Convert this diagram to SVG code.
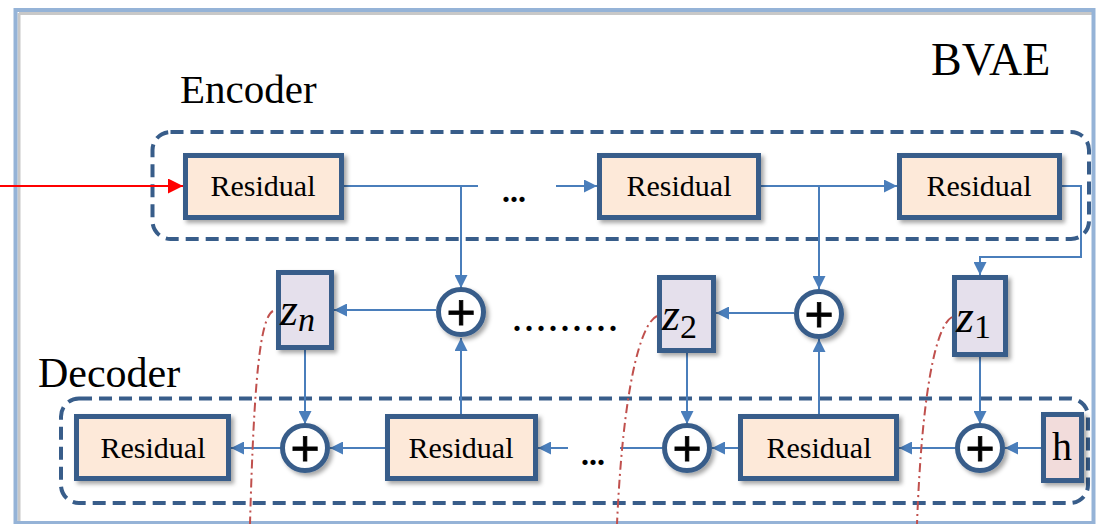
<svg xmlns="http://www.w3.org/2000/svg" width="1096" height="524" viewBox="0 0 1096 524">
<defs>
<style>
.res{fill:#fde9d9;stroke:#385d8a;stroke-width:5;filter:url(#sh)}
.zb{fill:#e5e0ec;stroke:#385d8a;stroke-width:5;filter:url(#sh)}
.hb{fill:#f2dcdb;stroke:#385d8a;stroke-width:5;filter:url(#sh)}
.cir{fill:#fff;stroke:#385d8a;stroke-width:5;filter:url(#sh)}
.grp{fill:none;stroke:#385d8a;stroke-width:4;stroke-dasharray:13 7}
.lbl{font-family:"Liberation Serif","Times New Roman",serif;font-size:30px;fill:#000;text-anchor:middle}
.big{font-family:"Liberation Serif","Times New Roman",serif;fill:#000}
.plus{font-family:"Liberation Sans",Arial,sans-serif;font-size:50px;fill:#000;text-anchor:middle;stroke:#000;stroke-width:0.8}
.z{font-family:"Liberation Serif","Times New Roman",serif;font-style:italic;font-size:46px;fill:#000}
.sub{font-size:34px}
.dots{font-family:"Liberation Serif","Times New Roman",serif;font-weight:bold;font-size:32px;fill:#000}
.con{fill:none;stroke:#4a7ebb;stroke-width:2}
.red{fill:none;stroke:#c0504d;stroke-width:2;stroke-dasharray:9 4 2 4}
</style>
<filter id="sh" x="-20%" y="-20%" width="150%" height="150%">
<feDropShadow dx="3" dy="3" stdDeviation="2" flood-color="#000" flood-opacity="0.35"/>
</filter>
<marker id="ab" viewBox="0 0 10 10" refX="10" refY="5" markerWidth="15" markerHeight="13" markerUnits="userSpaceOnUse" orient="auto">
<path d="M0,0 L10,5 L0,10 Z" fill="#4a7ebb"/>
</marker>
<marker id="ar" viewBox="0 0 10 10" refX="10" refY="5" markerWidth="17" markerHeight="15" markerUnits="userSpaceOnUse" orient="auto">
<path d="M0,0 L10,5 L0,10 Z" fill="#ff0000"/>
</marker>
</defs>
<rect width="1096" height="524" fill="#fff"/>
<g id="frame">
<line x1="19" y1="13" x2="19" y2="524" stroke="#c8c8c8" stroke-width="3"/>
<line x1="19" y1="13.5" x2="1092" y2="13.5" stroke="#c8c8c8" stroke-width="3"/>
<rect x="15.5" y="10" width="1078" height="513" fill="none" stroke="#95b3d7" stroke-width="4"/>
</g>
<g id="titles">
<text class="big" x="931" y="75" font-size="46">BVAE</text>
<text class="big" x="180" y="103" font-size="41">Encoder</text>
<text class="big" x="38" y="387" font-size="42">Decoder</text>
</g>
<g id="encoder-group"><rect class="grp" x="152.5" y="132" width="936.5" height="107" rx="18"/></g>
<g id="decoder-group"><rect class="grp" x="61" y="398.5" width="1027" height="104.5" rx="18"/></g>
<g id="connectors">
<line x1="0" y1="186" x2="183" y2="186" stroke="#ff0000" stroke-width="2" marker-end="url(#ar)"/>
<path class="con" d="M344,186 H478"/>
<path class="con" d="M461,186 V288" marker-end="url(#ab)"/>
<path class="con" d="M556,186 H597" marker-end="url(#ab)"/>
<path class="con" d="M761,186 H897" marker-end="url(#ab)"/>
<path class="con" d="M819,186 V289" marker-end="url(#ab)"/>
<path class="con" d="M1062,186 H1081 V257 H980 V275" marker-end="url(#ab)"/>
<path class="con" d="M436,310 H334" marker-end="url(#ab)"/>
<path class="con" d="M794,313 H716" marker-end="url(#ab)"/>
<path class="con" d="M461,415 V338" marker-end="url(#ab)"/>
<path class="con" d="M819,414 V339" marker-end="url(#ab)"/>
<path class="con" d="M305,350 V424" marker-end="url(#ab)"/>
<path class="con" d="M687,353 V424" marker-end="url(#ab)"/>
<path class="con" d="M980,357 V424" marker-end="url(#ab)"/>
<path class="con" d="M281,448 H231" marker-end="url(#ab)"/>
<path class="con" d="M385,448 H330" marker-end="url(#ab)"/>
<path class="con" d="M568,448 H538" marker-end="url(#ab)"/>
<path class="con" d="M620,448 H662"/>
<path class="con" d="M738,448 H712" marker-end="url(#ab)"/>
<path class="con" d="M955,448 H899" marker-end="url(#ab)"/>
<path class="con" d="M1050,448 H1005" marker-end="url(#ab)"/>
</g>
<g id="enc-res1"><rect class="res" x="185.5" y="155.5" width="156" height="62"/><text class="lbl" x="263" y="196">Residual</text></g>
<g id="enc-res2"><rect class="res" x="599.5" y="155.5" width="159" height="62"/><text class="lbl" x="679" y="196">Residual</text></g>
<g id="enc-res3"><rect class="res" x="899.5" y="155.5" width="160" height="62"/><text class="lbl" x="979" y="196">Residual</text></g>
<g id="enc-dots"><text class="dots" x="502" y="202">...</text></g>
<g id="mid-dots"><text class="dots" x="513" y="331" textLength="104" lengthAdjust="spacing">.........</text></g>
<g id="dec-dots"><text class="dots" x="581" y="465">...</text></g>
<g id="add-top1"><circle class="cir" cx="461" cy="312" r="22.5"/><text class="plus" x="461" y="329">+</text></g>
<g id="add-top2"><circle class="cir" cx="819" cy="314" r="22.5"/><text class="plus" x="819" y="331">+</text></g>
<g id="add-dec1"><circle class="cir" cx="305" cy="448" r="22.5"/><text class="plus" x="305" y="465">+</text></g>
<g id="add-dec2"><circle class="cir" cx="687" cy="448" r="22.5"/><text class="plus" x="687" y="465">+</text></g>
<g id="add-dec3"><circle class="cir" cx="980" cy="448" r="22.5"/><text class="plus" x="980" y="465">+</text></g>
<g id="zn"><rect class="zb" x="278.5" y="272.5" width="53" height="75"/><text class="z" x="280" y="325">z<tspan class="sub" dy="6">n</tspan></text></g>
<g id="z2"><rect class="zb" x="659.5" y="277.5" width="54" height="73"/><text class="z" x="662" y="330">z<tspan class="sub" font-style="normal" dy="8">2</tspan></text></g>
<g id="z1"><rect class="zb" x="954.5" y="277.5" width="51" height="77"/><text class="z" x="956" y="332">z<tspan class="sub" font-style="normal" dy="6">1</tspan></text></g>
<g id="h"><rect class="hb" x="1043.5" y="414.5" width="38" height="66"/><text class="big" x="1062" y="460" font-size="40" text-anchor="middle">h</text></g>
<g id="dec-res1"><rect class="res" x="76.5" y="416.5" width="152" height="62"/><text class="lbl" x="153" y="458">Residual</text></g>
<g id="dec-res2"><rect class="res" x="387.5" y="416.5" width="148" height="62"/><text class="lbl" x="461" y="458">Residual</text></g>
<g id="dec-res3"><rect class="res" x="740.5" y="416.5" width="156" height="62"/><text class="lbl" x="819" y="458">Residual</text></g>
<g id="sampling">
<path class="red" d="M273,311 C260,318 254,380 250,524"/>
<path class="red" d="M657,316 C640,324 623,390 617,524"/>
<path class="red" d="M952,317 C936,326 922,390 917,524"/>
</g>
</svg>
